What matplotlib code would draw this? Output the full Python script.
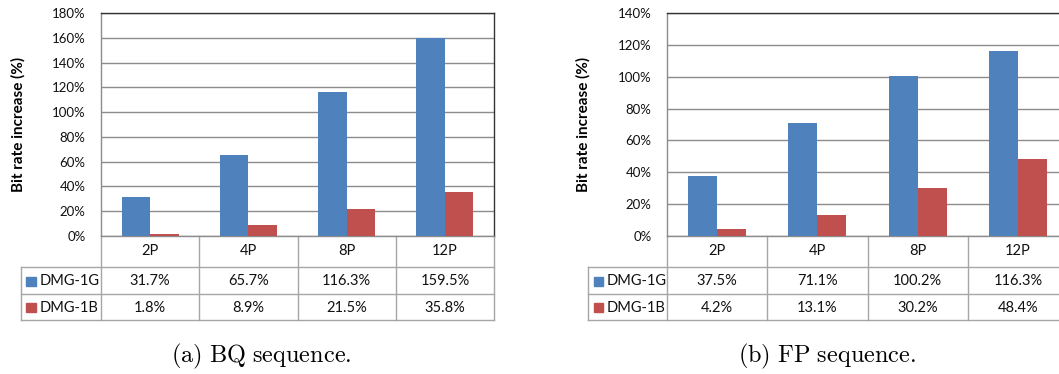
import matplotlib.pyplot as plt
from matplotlib.patches import Rectangle

plt.rcParams['font.family'] = ['Lato', 'DejaVu Sans']
plt.rcParams['mathtext.fontset'] = 'cm'

categories = ['2P', '4P', '8P', '12P']
series_names = ['DMG-1G', 'DMG-1B']

# bit rate increase (%) per sequence
bq_1g = [31.7, 65.7, 116.3, 159.5]
bq_1b = [1.8, 8.9, 21.5, 35.8]
fp_1g = [37.5, 71.1, 100.2, 116.3]
fp_1b = [4.2, 13.1, 30.2, 48.4]

BLUE = '#4F81BD'
RED = '#C0504D'
GRID = '#8C8C8C'
TABLE = '#A6A6A6'

W, H = 1059, 374
fig = plt.figure(figsize=(W / 100, H / 100), dpi=100)


def px_axes(x0, x1, y_top, y_bot):
    return fig.add_axes([x0 / W, 1 - y_bot / H, (x1 - x0) / W, (y_bot - y_top) / H])


def draw_panel(ax, vals_g, vals_b, ymax, legend_left, ylabel_x, caption, caption_x):
    x = range(len(categories))
    bw = 0.29
    ax.bar([i - bw / 2 for i in x], vals_g, bw, color=BLUE, zorder=3)
    ax.bar([i + bw / 2 for i in x], vals_b, bw, color=RED, zorder=3)
    ax.set_xlim(-0.5, len(categories) - 0.5)
    ax.set_ylim(0, ymax)
    ticks = list(range(0, ymax + 1, 20))
    ax.set_yticks(ticks)
    ax.set_yticklabels([f'{t}%' for t in ticks])
    ax.tick_params(axis='y', length=0, pad=11, labelsize=9.5, colors='#111111')
    ax.set_xticks([])
    ax.yaxis.grid(True, color=GRID, lw=1.0, zorder=0)
    for s in ['top', 'right']:
        ax.spines[s].set_color('#333333')
        ax.spines[s].set_linewidth(1.0)
    ax.spines['left'].set_color(GRID)
    ax.spines['bottom'].set_color(GRID)
    ax.spines['left'].set_linewidth(1.0)
    ax.spines['bottom'].set_linewidth(1.0)

    fig.text(ylabel_x, 1 - 124 / H, 'Bit rate increase (%)', rotation=90, fontsize=11,
             fontweight='bold', ha='center', va='center')

    # data table under the bars: x in data units, y in axes fraction
    tr = ax.get_xaxis_transform()
    rows = [0.0, -0.139, -0.260, -0.377]
    right = len(categories) - 0.5
    kw = dict(transform=tr, clip_on=False, color=TABLE, lw=1.0)
    for yb in rows[1:]:
        ax.plot([legend_left, right], [yb, yb], **kw)
    ax.plot([legend_left, legend_left], [rows[1], rows[3]], **kw)
    for i in range(len(categories) + 1):
        ax.plot([i - 0.5, i - 0.5], [rows[0], rows[3]], **kw)

    for i, c in enumerate(categories):
        ax.text(i, (rows[0] + rows[1]) / 2, c, transform=tr, ha='center', va='center',
                fontsize=10.5, color='#111111')
    for r, (name, vals, col) in enumerate(zip(series_names, [vals_g, vals_b], [BLUE, RED])):
        yc = (rows[r + 1] + rows[r + 2]) / 2 - 0.004
        for i, v in enumerate(vals):
            ax.text(i, yc, f'{v:.1f}%', transform=tr, ha='center', va='center',
                    fontsize=10.5, color='#111111')
        ax.add_patch(Rectangle((legend_left + 0.055, yc - 0.02), 0.095, 0.04,
                               transform=tr, clip_on=False, color=col))
        ax.text(legend_left + 0.19, yc, name, transform=tr, ha='left', va='center',
                fontsize=10.5, color='#111111')

    fig.text(caption_x, 1 - 356 / H, caption, ha='left', va='center', fontsize=17.5)


ax1 = px_axes(101, 494, 13, 236)
draw_panel(ax1, bq_1g, bq_1b, 180, -1.314, 18 / W,
           r'$\mathrm{(a)\ BQ\ sequence.}$', 171 / W)

ax2 = px_axes(667, 1068, 13, 236)
draw_panel(ax2, fp_1g, fp_1b, 140, -1.288, 583 / W,
           r'$\mathrm{(b)\ FP\ sequence.}$', 738 / W)

fig.savefig('out.png', dpi=100)
